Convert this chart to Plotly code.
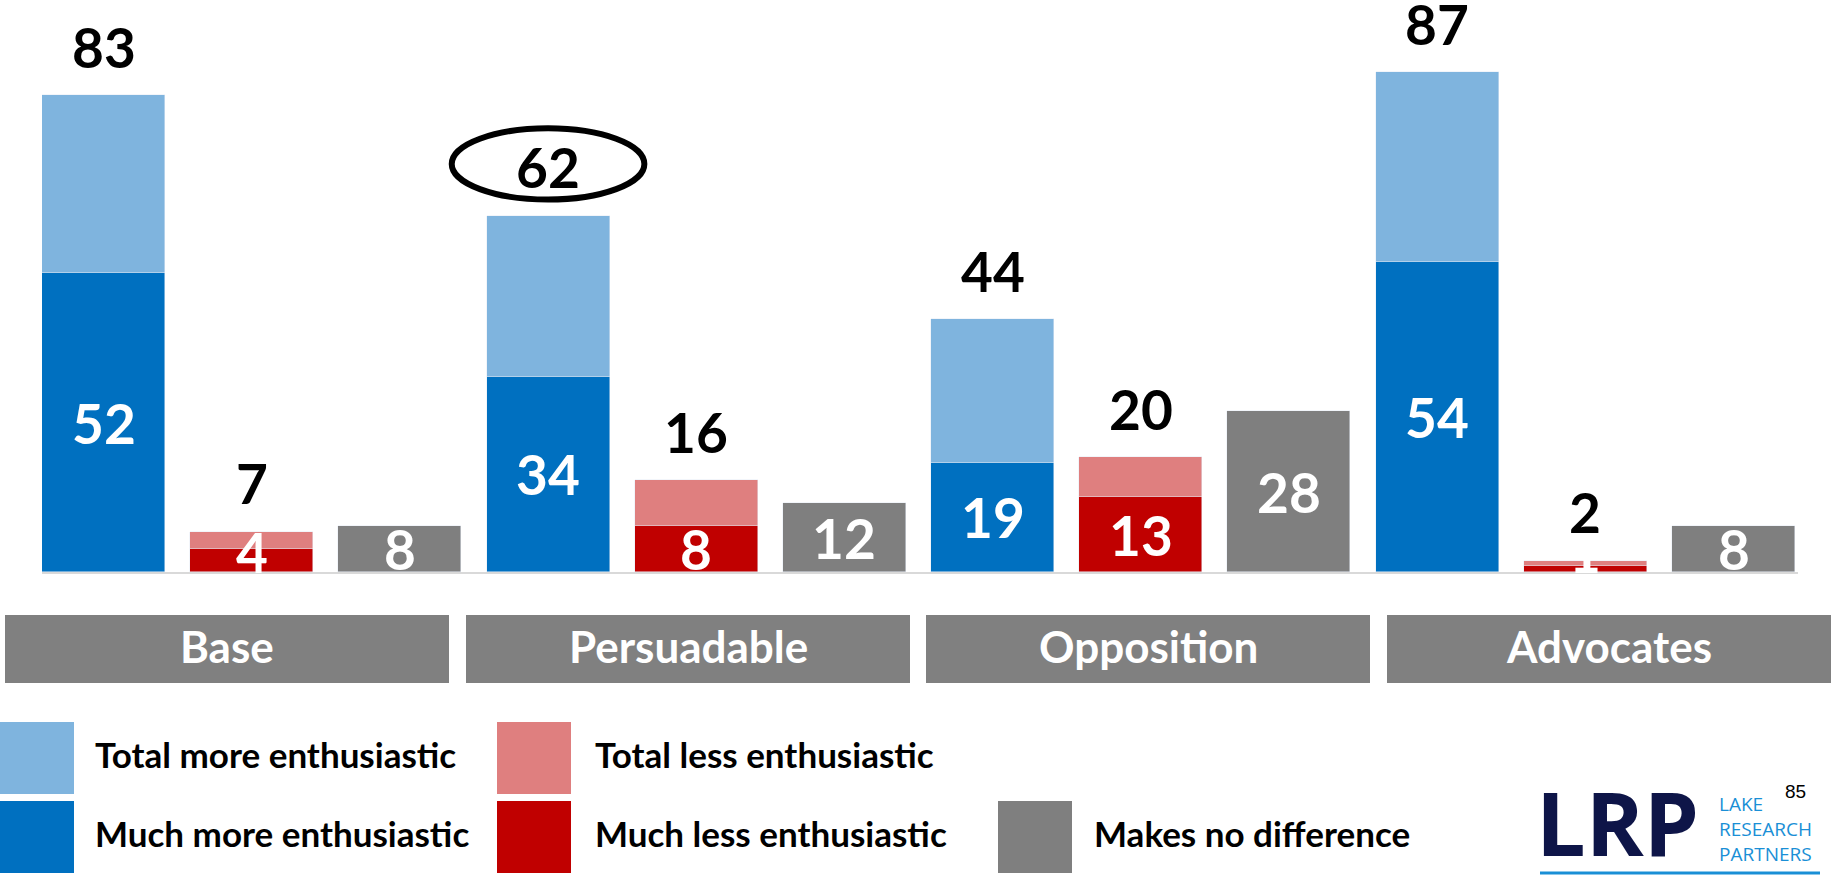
import plotly.graph_objects as go

# ---------------- data ----------------
groups = ["Base", "Persuadable", "Opposition", "Advocates"]
total_more = [83, 62, 44, 87]
much_more = [52, 34, 19, 54]
total_less = [7, 16, 20, 2]
much_less = [4, 8, 13, 1]
no_difference = [8, 12, 28, 8]
legend_labels = ["Total more enthusiastic", "Much more enthusiastic",
                 "Total less enthusiastic", "Much less enthusiastic",
                 "Makes no difference"]
page_number = "85"

# ---------------- styling ----------------
C_LIGHT_BLUE = "#7fb4de"
C_BLUE = "#0070c0"
C_LIGHT_RED = "#df7f7f"
C_RED = "#c00000"
C_GRAY = "#7f7f7f"
FONT = "Lato"

W, H = 1831, 875
ML, MR, MT, MB = 42, 33, 3, 303
PW = W - ML - MR
PH = H - MT - MB


def px(x):
    return (x - ML) / PW


def py(y):
    return (H - MB - y) / PH


n = len(groups)
x_more = [3 * i for i in range(n)]
x_less = [3 * i + 1 for i in range(n)]
x_nodiff = [3 * i + 2 for i in range(n)]
rest_more = [t - m for t, m in zip(total_more, much_more)]
rest_less = [t - m for t, m in zip(total_less, much_less)]

BW = 0.83
fig = go.Figure()
fig.add_bar(x=x_more, y=much_more, marker_color=C_BLUE, width=BW, name=legend_labels[1])
fig.add_bar(x=x_more, y=rest_more, marker_color=C_LIGHT_BLUE, width=BW, name=legend_labels[0])
fig.add_bar(x=x_less, y=much_less, marker_color=C_RED, width=BW, name=legend_labels[3])
fig.add_bar(x=x_less, y=rest_less, marker_color=C_LIGHT_RED, width=BW, name=legend_labels[2])
fig.add_bar(x=x_nodiff, y=no_difference, marker_color=C_GRAY, width=BW, name=legend_labels[4])

annotations = []
shapes = []

# top total labels
for xs, tots in ((x_more, total_more), (x_less, total_less)):
    for x, t in zip(xs, tots):
        annotations.append(dict(x=x, y=t + 8.4, xref="x", yref="y", text=f"<b>{t}</b>",
                                showarrow=False, font=dict(family=FONT, size=55, color="black"),
                                yanchor="middle"))
# inside labels
for xs, vals in ((x_more, much_more), (x_less, much_less), (x_nodiff, no_difference)):
    for x, v in zip(xs, vals):
        annotations.append(dict(x=x, y=max(v / 2, 3.5), xref="x", yref="y", text=f"<b>{v}</b>",
                                showarrow=False, font=dict(family=FONT, size=55, color="white"),
                                yanchor="middle"))

# ellipse around Persuadable total
shapes.append(dict(type="circle", xref="x", yref="y", x0=x_more[1] - 0.65, x1=x_more[1] + 0.65,
                   y0=64.8, y1=77.2, line=dict(color="black", width=6)))

# category boxes
box_left = [5, 466, 926, 1387]
box_w = 444
for g, bl in zip(groups, box_left):
    shapes.append(dict(type="rect", xref="paper", yref="paper", x0=px(bl), x1=px(bl + box_w),
                       y0=py(615), y1=py(683), fillcolor="#808080", line_width=0, layer="above"))
    annotations.append(dict(x=px(bl + box_w / 2), y=py(646), xref="paper", yref="paper",
                            text=f"<b>{g}</b>", showarrow=False,
                            font=dict(family=FONT, size=44, color="white"),
                            xanchor="center", yanchor="middle"))

# legend (manual)
leg_items = [
    (0, 722, C_LIGHT_BLUE, legend_labels[0], 93),
    (0, 801, C_BLUE, legend_labels[1], 93),
    (497, 722, C_LIGHT_RED, legend_labels[2], 593),
    (497, 801, C_RED, legend_labels[3], 593),
    (998, 801, C_GRAY, legend_labels[4], 1092),
]
for sx, sy, col, lab, tx in leg_items:
    shapes.append(dict(type="rect", xref="paper", yref="paper", x0=px(sx), x1=px(sx + 74),
                       y0=py(sy), y1=py(sy + 72), fillcolor=col, line_width=0))
    annotations.append(dict(x=px(tx), y=py(sy + 32), xref="paper", yref="paper",
                            text=f"<b>{lab}</b>", showarrow=False,
                            font=dict(family=FONT, size=35, color="black"),
                            xanchor="left", yanchor="middle"))

# logo
annotations.append(dict(x=px(1534), y=py(822), xref="paper", yref="paper", text="<b>LRP</b>",
                        showarrow=False, font=dict(family="Open Sans", size=88, color="#0e1548"),
                        xanchor="left", yanchor="middle"))
for i, word in enumerate(["LAKE", "RESEARCH", "PARTNERS"]):
    annotations.append(dict(x=px(1717), y=py(804 + 25 * i), xref="paper", yref="paper", text=word,
                            showarrow=False, font=dict(family="Open Sans", size=19, color="#1a8fd6"),
                            xanchor="left", yanchor="middle"))
shapes.append(dict(type="line", xref="paper", yref="paper", x0=px(1540), x1=px(1820),
                   y0=py(873), y1=py(873), line=dict(color="#1a8fd6", width=3)))
annotations.append(dict(x=px(1795), y=py(792), xref="paper", yref="paper", text=page_number,
                        showarrow=False, font=dict(family="Liberation Sans", size=19, color="black"),
                        xanchor="center", yanchor="middle"))

fig.update_layout(
    width=W, height=H, barmode="stack", showlegend=False,
    margin=dict(l=ML, r=MR, t=MT, b=MB),
    paper_bgcolor="white", plot_bgcolor="white",
    xaxis=dict(range=[-0.415, 11.435], showticklabels=False, showgrid=False, zeroline=False,
               showline=True, linecolor="#d9d9d9", linewidth=2),
    yaxis=dict(range=[0, 99], showticklabels=False, showgrid=False, zeroline=False, showline=False),
    annotations=annotations, shapes=shapes, bargap=0,
)

fig.write_html("out.html", config={"displayModeBar": False},
               post_script="document.body.style.margin='0';document.body.style.overflow='hidden';")
